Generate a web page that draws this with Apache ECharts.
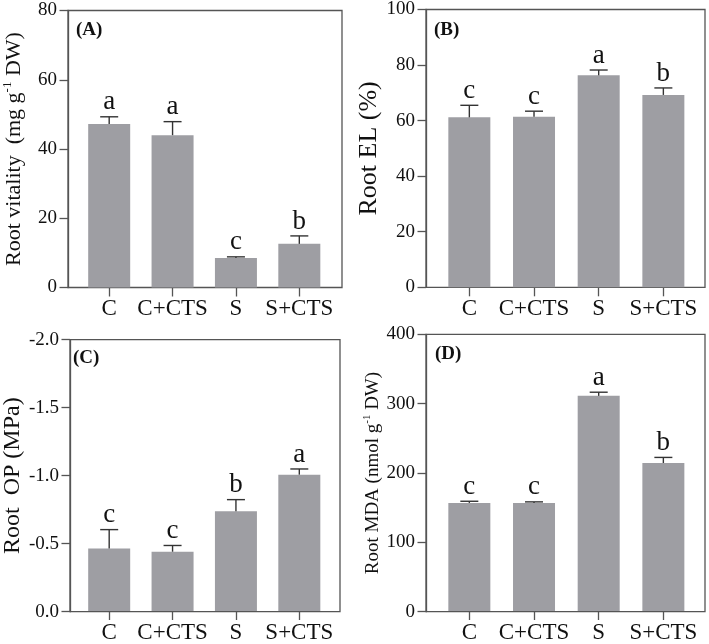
<!DOCTYPE html>
<html>
<head>
<meta charset="utf-8">
<script src="https://cdn.jsdelivr.net/npm/echarts@6/dist/echarts.min.js"></script>
<style>
html,body{margin:0;padding:0;background:#fff;}
#chart{width:709px;height:644px;}
</style>
</head>
<body>
<div id="chart"></div>
<script>
const categories = ['C', 'C+CTS', 'S', 'S+CTS'];

const vitalityMean = [47.2, 44.0, 8.5, 12.6];
const vitalitySE = [2.1, 3.9, 0.35, 2.3];
const vitalityLetters = ['a', 'a', 'c', 'b'];
const vitalityTicks = [0, 20, 40, 60, 80];

const elMean = [60.7, 60.9, 75.7, 68.7];
const elSE = [4.3, 2.0, 1.9, 2.5];
const elLetters = ['c', 'c', 'a', 'b'];
const elTicks = [0, 20, 40, 60, 80, 100];

const opMean = [-0.46, -0.437, -0.735, -1.005];
const opSE = [0.14, 0.046, 0.086, 0.042];
const opLetters = ['c', 'c', 'b', 'a'];
const opTicks = [-2.0, -1.5, -1.0, -0.5, 0.0];

const mdaMean = [156.3, 156.3, 311.1, 214.0];
const mdaSE = [2.4, 1.5, 5.3, 8.1];
const mdaLetters = ['c', 'c', 'a', 'b'];
const mdaTicks = [0, 100, 200, 300, 400];

const FONT = "'Liberation Serif', 'Times New Roman', serif";
const AXIS = '#555';
const BAR = '#9e9ea3';
const ERR = '#333';

const panels = [
  { tag: '(A)', mean: vitalityMean, se: vitalitySE, letters: vitalityLetters, ticks: vitalityTicks,
    frame: { left: 67, top: 10.5, width: 275, height: 277 }, data: { left: 77.5, width: 253.5 },
    name: '{n|Root vitality  (mg g}{s|-1}{n| DW)}', nameSize: 22, nameGap: 41, inverse: false, dec: 0,
    tagPos: { left: 76, top: 21 } },
  { tag: '(B)', mean: elMean, se: elSE, letters: elLetters, ticks: elTicks,
    frame: { left: 426, top: 7.3, width: 279, height: 280 }, data: { left: 437, width: 258.7 },
    name: '{n|Root EL (%)}', nameSize: 26, nameGap: 40, inverse: false, dec: 0,
    tagPos: { left: 434, top: 21 } },
  { tag: '(C)', mean: opMean, se: opSE, letters: opLetters, ticks: opTicks,
    frame: { left: 67, top: 339.7, width: 273, height: 272 }, data: { left: 77.5, width: 253.5 },
    name: '{n|Root  OP (MPa)}', nameSize: 24, nameGap: 40, inverse: true, dec: 1,
    tagPos: { left: 73, top: 349 } },
  { tag: '(D)', mean: mdaMean, se: mdaSE, letters: mdaLetters, ticks: mdaTicks,
    frame: { left: 426, top: 334.4, width: 279, height: 277.3 }, data: { left: 437, width: 258.7 },
    name: '{n|Root MDA (nmol g}{s|-1}{n| DW)}', nameSize: 19, nameGap: 40, inverse: false, dec: 0,
    tagPos: { left: 435, top: 345 } }
];

const option = {
  backgroundColor: '#fff',
  animation: false,
  title: [], grid: [], xAxis: [], yAxis: [], series: []
};

panels.forEach((p, k) => {
  const fi = 2 * k, di = 2 * k + 1;
  const tmin = Math.min(...p.ticks), tmax = Math.max(...p.ticks);
  const interval = p.ticks[1] - p.ticks[0];
  option.title.push({
    text: p.tag, left: p.tagPos.left, top: p.tagPos.top, padding: 0,
    textStyle: { fontFamily: FONT, fontWeight: 'bold', fontSize: 19, color: '#111' }
  });
  option.grid.push({
    left: p.frame.left, top: p.frame.top, width: p.frame.width, height: p.frame.height,
    show: true, borderColor: AXIS, borderWidth: 1.3, backgroundColor: 'transparent'
  });
  option.grid.push({
    left: p.data.left, top: p.frame.top, width: p.data.width, height: p.frame.height
  });
  option.xAxis.push({ gridIndex: fi, type: 'value', min: 0, max: 1, show: false });
  option.yAxis.push({
    gridIndex: fi, type: 'value', min: tmin, max: tmax, interval: Math.abs(interval), inverse: p.inverse,
    axisLine: { show: true, lineStyle: { color: AXIS, width: 1.3 } },
    axisTick: { show: true, length: 8.5, lineStyle: { color: AXIS, width: 1.3 } },
    splitLine: { show: false },
    axisLabel: { margin: 11, fontFamily: FONT, fontSize: 19, color: '#111',
      formatter: v => (p.dec ? v.toFixed(p.dec) : String(v)) },
    name: p.name, nameLocation: 'middle', nameGap: p.nameGap,
    nameTextStyle: {
      rich: {
        n: { fontFamily: FONT, fontSize: p.nameSize, color: '#111', lineHeight: p.nameSize + 4 },
        s: { fontFamily: FONT, fontSize: Math.round(p.nameSize * 0.6), color: '#111', verticalAlign: 'top', lineHeight: p.nameSize + 4 }
      }
    }
  });
  option.xAxis.push({
    gridIndex: di, type: 'category', data: categories,
    axisLine: { show: false },
    axisTick: { show: true, alignWithLabel: true, interval: 0, length: 9, lineStyle: { color: AXIS, width: 1.3 } },
    axisLabel: { interval: 0, margin: 10, fontFamily: FONT, fontSize: 23, color: '#111' }
  });
  option.yAxis.push({ gridIndex: di, type: 'value', min: tmin, max: tmax, interval: Math.abs(interval), inverse: p.inverse, show: false });

  option.series.push({
    type: 'bar', xAxisIndex: di, yAxisIndex: di, data: p.mean, barWidth: 42,
    itemStyle: { color: BAR }, z: 2
  });
  const errData = p.mean.map((m, i) => [i, m, m + Math.sign(m) * p.se[i]]);
  const letters = p.letters;
  option.series.push({
    type: 'custom', xAxisIndex: di, yAxisIndex: di, data: errData, z: 5,
    renderItem: (params, api) => {
      const i = api.value(0);
      const p0 = api.coord([i, api.value(1)]);
      const p1 = api.coord([i, api.value(2)]);
      return {
        type: 'group',
        children: [
          { type: 'line', shape: { x1: p0[0], y1: p0[1], x2: p1[0], y2: p1[1] }, style: { stroke: ERR, lineWidth: 1.4 } },
          { type: 'line', shape: { x1: p1[0] - 9, y1: p1[1], x2: p1[0] + 9, y2: p1[1] }, style: { stroke: ERR, lineWidth: 1.4 } },
          { type: 'text', x: p1[0], y: p1[1] - 1,
            style: { text: letters[params.dataIndex], textAlign: 'center', textVerticalAlign: 'bottom',
              font: '27px ' + FONT, fill: '#111' } }
        ]
      };
    }
  });
});

const chart = echarts.init(document.getElementById('chart'));
chart.setOption(option);
</script>
</body>
</html>
